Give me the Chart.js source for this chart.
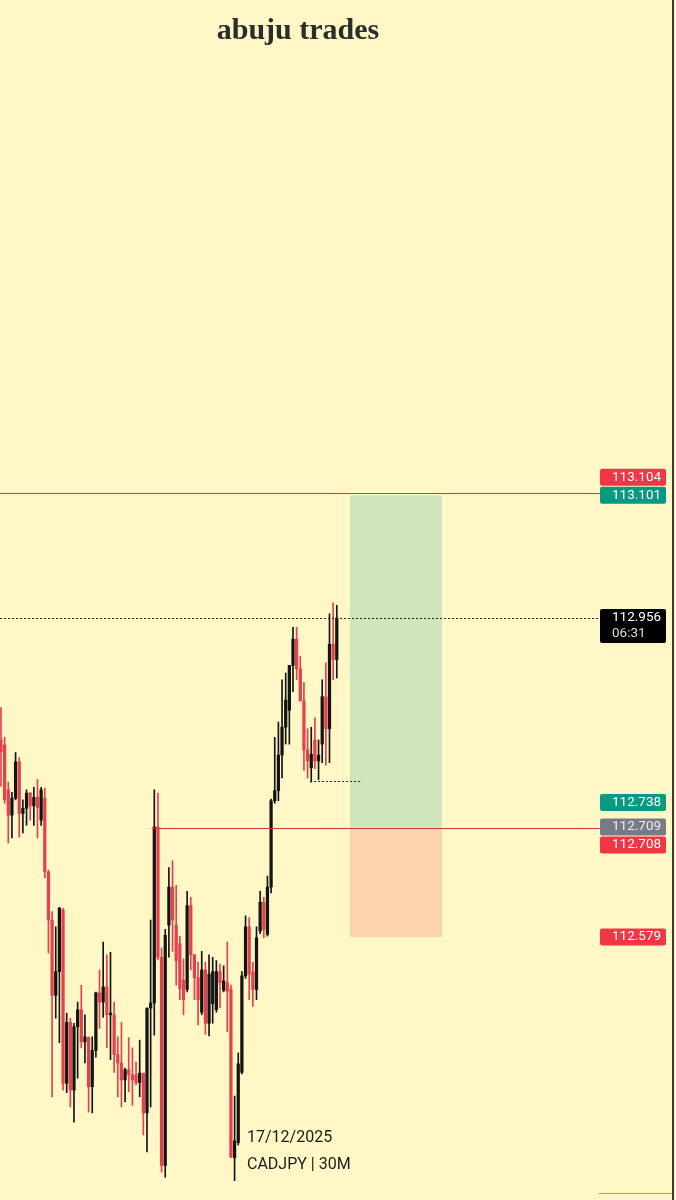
<!DOCTYPE html>
<html lang="en">
<head>
<meta charset="UTF-8" />
<title>abuju trades - CADJPY 30M</title>
<style>
  html, body { margin: 0; padding: 0; background: #fff8c6; }
  .wrap { position: relative; width: 676px; height: 1200px; overflow: hidden; }
  #chartBox { position: absolute; left: 0; top: 0; width: 676px; height: 1200px; }
  .title { position: absolute; left: 0; top: 14px; width: 596px; text-align: center;
    font-family: "Liberation Serif", serif; font-weight: bold; font-size: 30px; line-height: 30px; color: #2c2c2c; }
  .stamp { position: absolute; left: 247px; font-family: Roboto, sans-serif; font-size: 16px; line-height: 16px; color: #1b1b1b; }
  .edge { position: absolute; left: 672px; top: 0; width: 2px; height: 1200px; background: #3a3a3a; }
  .foot { position: absolute; left: 599px; top: 1193px; width: 73px; height: 1px; background: #9a9a8a; }
</style>
</head>
<body>
<div class="wrap">
  <div id="chartBox"><canvas id="priceChart"></canvas></div>
  <div class="title">abuju trades</div>
  <div class="stamp" style="top:1129px">17/12/2025</div>
  <div class="stamp" style="top:1156px">CADJPY | 30M</div>
  <div class="edge"></div>
  <div class="foot"></div>
</div>

<script src="https://cdn.jsdelivr.net/npm/chart.js"></script>
<script>
  // CADJPY 30M candles
  const opens = [
    112.812,112.806,112.753,112.723,112.743,112.786,112.725,112.731,112.749,112.734,
    112.744,112.717,112.743,112.656,112.599,112.510,112.538,112.611,112.406,112.478,
    112.398,112.473,112.493,112.455,112.460,112.402,112.445,112.513,112.502,112.520,
    112.487,112.487,112.440,112.430,112.410,112.422,112.416,112.416,112.407,112.418,
    112.371,112.495,112.501,112.709,112.555,112.309,112.593,112.638,112.593,112.571,
    112.528,112.517,112.616,112.558,112.531,112.490,112.540,112.477,112.500,112.493,
    112.538,112.516,112.525,112.517,112.318,112.336,112.419,112.533,112.591,112.538,
    112.517,112.586,112.620,112.582,112.638,112.740,112.752,112.794,112.827,112.847,
    112.900,112.931,112.896,112.858,112.800,112.779,112.812,112.787,112.807,112.863,
    112.825,112.925,112.907
  ];
  const highs = [
    112.850,112.815,112.762,112.750,112.797,112.791,112.741,112.753,112.750,112.756,
    112.765,112.756,112.755,112.658,112.609,112.591,112.614,112.613,112.489,112.483,
    112.477,112.502,112.522,112.487,112.461,112.461,112.514,112.540,112.573,112.558,
    112.561,112.502,112.461,112.478,112.424,112.460,112.448,112.431,112.457,112.418,
    112.495,112.599,112.753,112.749,112.566,112.588,112.661,112.669,112.640,112.580,
    112.553,112.633,112.626,112.558,112.549,112.562,112.549,112.558,112.555,112.551,
    112.547,112.545,112.573,112.522,112.391,112.442,112.538,112.604,112.602,112.549,
    112.591,112.633,112.626,112.651,112.742,112.815,112.833,112.883,112.891,112.900,
    112.945,112.945,112.911,112.880,112.825,112.827,112.838,112.812,112.883,112.903,
    112.961,112.974,112.971
  ];
  const lows = [
    112.757,112.737,112.690,112.696,112.741,112.697,112.702,112.711,112.717,112.711,
    112.696,112.711,112.649,112.560,112.390,112.483,112.454,112.398,112.395,112.378,
    112.360,112.412,112.448,112.430,112.372,112.371,112.437,112.471,112.484,112.448,
    112.434,112.419,112.390,112.378,112.384,112.396,112.380,112.404,112.390,112.345,
    112.325,112.378,112.463,112.552,112.301,112.295,112.555,112.562,112.522,112.505,
    112.487,112.514,112.540,112.505,112.475,112.487,112.464,112.462,112.477,112.490,
    112.495,112.514,112.467,112.318,112.291,112.333,112.417,112.530,112.505,112.497,
    112.505,112.583,112.578,112.580,112.631,112.737,112.740,112.767,112.807,112.807,
    112.869,112.883,112.858,112.776,112.767,112.762,112.778,112.765,112.785,112.782,
    112.785,112.883,112.885
  ];
  const closes = [
    112.798,112.741,112.723,112.743,112.786,112.725,112.731,112.749,112.734,112.744,
    112.732,112.753,112.656,112.599,112.510,112.538,112.613,112.406,112.478,112.398,
    112.473,112.493,112.455,112.461,112.402,112.445,112.513,112.502,112.520,112.487,
    112.489,112.440,112.430,112.410,112.422,112.416,112.410,112.407,112.418,112.371,
    112.495,112.501,112.709,112.555,112.309,112.581,112.638,112.599,112.551,112.518,
    112.505,112.616,112.558,112.531,112.505,112.540,112.477,112.535,112.538,112.538,
    112.525,112.527,112.515,112.319,112.338,112.429,112.533,112.591,112.535,112.517,
    112.578,112.620,112.588,112.638,112.740,112.752,112.794,112.827,112.859,112.900,
    112.931,112.896,112.858,112.800,112.787,112.795,112.787,112.794,112.863,112.825,
    112.925,112.907,112.956
  ];

  // drawings (prices and bar positions)
  const tpLine = 113.104;
  const entryLine = 112.708;
  const lastPrice = 112.956;
  const swingLow = 112.763;
  const swingFrom = 84.7, swingTo = 98.9;
  const entryFrom = 41.4;
  const posFrom = 95.6, posTo = 120.8;
  const posTarget = 113.101, posEntry = 112.709, posStop = 112.579;

  // right-side price tags, in placement priority
  const tagPrices = [113.101, 113.104, 112.956, 112.738, 112.709, 112.708, 112.579];
  const tagColors = ['#089981', '#f23645', '#000000', '#089981', '#787b86', '#f23645', '#f23645'];
  const tagSub = { 2: '06:31' };

  const upColor = '#141414';
  const downColor = '#e5414c';
  const candleColors = closes.map((c, i) => c >= opens[i] ? upColor : downColor);

  const overlay = {
    id: 'overlay',
    beforeDatasetsDraw(chart) {
      const { ctx, scales: { x, y } } = chart;
      const x0 = x.getPixelForValue(posFrom), x1 = x.getPixelForValue(posTo);
      const yT = y.getPixelForValue(posTarget), yE = y.getPixelForValue(posEntry), yS = y.getPixelForValue(posStop);
      ctx.save();
      ctx.fillStyle = '#cfe6bd';
      ctx.fillRect(x0, yT, x1 - x0, yE - yT);
      ctx.fillStyle = '#fbd4ad';
      ctx.fillRect(x0, yE, x1 - x0, yS - yE);
      ctx.restore();
    },
    afterDatasetsDraw(chart) {
      const { ctx, scales: { x, y } } = chart;
      const right = chart.width - 76;
      const hline = (price, from, to, color, dash) => {
        const py = Math.round(y.getPixelForValue(price)) + 0.5;
        ctx.beginPath();
        ctx.setLineDash(dash || []);
        ctx.strokeStyle = color;
        ctx.lineWidth = 1;
        ctx.moveTo(from, py);
        ctx.lineTo(to, py);
        ctx.stroke();
      };
      ctx.save();
      hline(tpLine, 0, right, '#cf3a46');
      hline(entryLine, x.getPixelForValue(entryFrom), right, '#cf3a46');
      hline(lastPrice, 0, right, '#222', [2, 2]);
      hline(swingLow, x.getPixelForValue(swingFrom), x.getPixelForValue(swingTo), '#222', [2, 2]);
      ctx.restore();
    },
    afterDraw(chart) {
      const { ctx, scales: { y } } = chart;
      const left = chart.width - 76, w = 66, h = 17;
      const placed = [];
      ctx.save();
      ctx.font = '13.5px Roboto, sans-serif';
      ctx.textBaseline = 'middle';
      tagPrices.forEach((p, i) => {
        const py = y.getPixelForValue(p);
        const sub = tagSub[i];
        const th = sub ? 34 : h;
        let top = sub ? py - 9 : py - h / 2;
        placed.forEach(o => {
          if (top < o.bottom && top + th > o.top) {
            top = p > o.price ? o.top - th - 1 : o.bottom + 1;
          }
        });
        placed.push({ price: p, top: top, bottom: top + th });
        ctx.fillStyle = tagColors[i];
        ctx.beginPath();
        if (ctx.roundRect) ctx.roundRect(left, top, w, th, 2); else ctx.rect(left, top, w, th);
        ctx.fill();
        ctx.fillStyle = tagColors[i] === '#787b86' ? '#ececec' : '#ffffff';
        ctx.fillText(p.toFixed(3), left + 12, top + 8.5);
        if (sub) {
          ctx.fillStyle = '#dddddd';
          ctx.fillText(sub, left + 12, top + 25);
        }
      });
      ctx.restore();
    }
  };

  const ctx = document.getElementById('priceChart').getContext('2d');
  new Chart(ctx, {
    type: 'bar',
    data: {
      datasets: [
        {
          label: 'body',
          data: opens.map((o, i) => ({ x: i, y: [o, closes[i]] })),
          backgroundColor: candleColors,
          barThickness: 2.6,
          minBarLength: 1,
          grouped: false
        },
        {
          label: 'wick',
          data: lows.map((l, i) => ({ x: i, y: [l, highs[i]] })),
          backgroundColor: candleColors,
          barThickness: 1,
          grouped: false
        }
      ]
    },
    options: {
      responsive: true,
      maintainAspectRatio: false,
      animation: false,
      layout: { padding: 0 },
      plugins: { legend: { display: false }, tooltip: { enabled: false } },
      scales: {
        x: { type: 'linear', min: -0.27, max: 184.93, offset: false, display: false },
        y: { min: 112.2681, max: 113.6865, display: false }
      }
    },
    plugins: [overlay]
  });
</script>
</body>
</html>
